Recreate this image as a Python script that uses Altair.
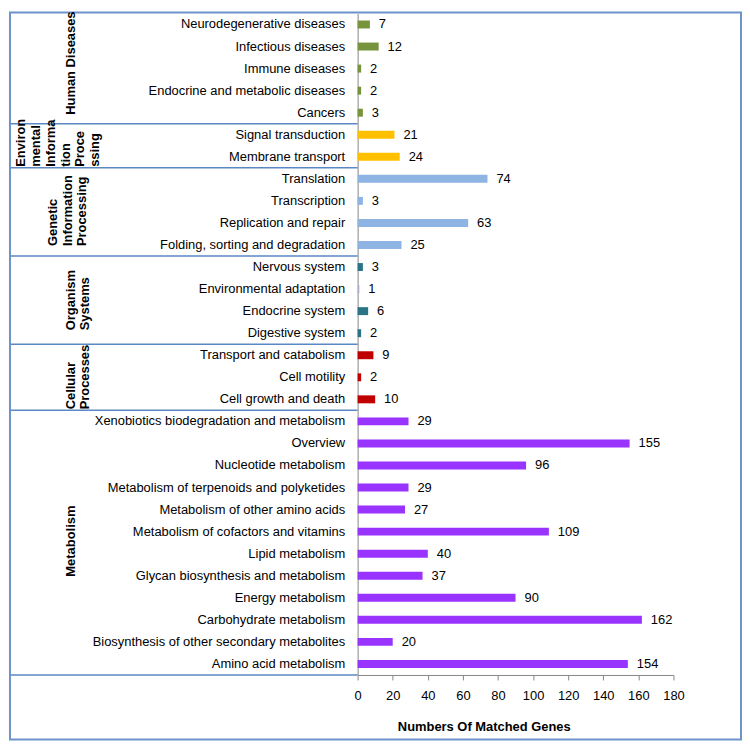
import altair as alt
import pandas as pd

categories = [
    "Neurodegenerative diseases", "Infectious diseases", "Immune diseases",
    "Endocrine and metabolic diseases", "Cancers",
    "Signal transduction", "Membrane transport",
    "Translation", "Transcription", "Replication and repair",
    "Folding, sorting and degradation",
    "Nervous system", "Environmental adaptation", "Endocrine system", "Digestive system",
    "Transport and catabolism", "Cell motility", "Cell growth and death",
    "Xenobiotics biodegradation and metabolism", "Overview", "Nucleotide metabolism",
    "Metabolism of terpenoids and polyketides", "Metabolism of other amino acids",
    "Metabolism of cofactors and vitamins", "Lipid metabolism",
    "Glycan biosynthesis and metabolism", "Energy metabolism",
    "Carbohydrate metabolism", "Biosynthesis of other secondary metabolites",
    "Amino acid metabolism",
]
values = [7, 12, 2, 2, 3, 21, 24, 74, 3, 63, 25, 3, 1, 6, 2, 9, 2, 10,
          29, 155, 96, 29, 27, 109, 40, 37, 90, 162, 20, 154]
colors = (["#77933C"] * 5 + ["#FFC000"] * 2 + ["#8DB4E2"] * 4 +
          ["#2A7485", "#B9A9D4", "#2A7485", "#2A7485"] + ["#C00000"] * 3 +
          ["#9933FF"] * 12)
x_ticks = [0, 20, 40, 60, 80, 100, 120, 140, 160, 180]

# group label lines, anchor (last row of group), first-line x (px), upward shift
groups = [
    (["Human Diseases"], "Cancers", -289, 9),
    (["Environ", "mental", "Informa", "tion", "Proce", "ssing"], "Membrane transport", -339, 1),
    (["Genetic", "Information", "Processing"], "Folding, sorting and degradation", -307, 10),
    (["Organism", "Systems"], "Digestive system", -289, 14),
    (["Cellular", "Processes"], "Cell growth and death", -289, 1),
    (["Metabolism"], "Amino acid metabolism", -289, 99),
]
section_starts = ["Signal transduction", "Translation", "Nervous system",
                  "Transport and catabolism", "Xenobiotics biodegradation and metabolism"]

df = pd.DataFrame({"cat": categories, "val": values, "col": colors})

FONT = "Liberation Sans"
yscale = alt.Scale(domain=categories, paddingInner=0, paddingOuter=0)
xscale = alt.Scale(domain=[0, 180], nice=False)
yaxis = alt.Axis(labelFont=FONT, labelFontSize=13, labelColor="#000000",
                 ticks=False, labelPadding=13, domainColor="#868686",
                 labelLimit=400, labelOverlap=False, title=None)
xaxis = alt.Axis(values=x_ticks, grid=False, labelOverlap=False, labelFlush=False,
                 labelFont=FONT, labelFontSize=13, labelColor="#000000",
                 domainColor="#868686", tickColor="#868686", tickSize=5,
                 labelPadding=10, title="Numbers Of Matched Genes",
                 titleFont=FONT, titleFontSize=13,
                 titleFontWeight="bold", titleColor="#000000",
                 titleX=127, titleY=52, titleBaseline="middle",
                 titleAlign="center")


def Y(field, **kw):
    return alt.Y(field, sort=categories, scale=yscale, axis=yaxis, title=None, **kw)


def X(field):
    return alt.X(field, scale=xscale, axis=xaxis, title="Numbers Of Matched Genes")


base = alt.Chart(df)
bars = base.mark_bar(size=8).encode(
    y=Y("cat:N"), x=X("val:Q"),
    color=alt.Color("col:N", scale=None),
)
labels = base.mark_text(align="left", baseline="middle", dx=9, font=FONT,
                        fontSize=13, color="#000000").encode(
    y=Y("cat:N"), x=X("val:Q"), text="val:Q",
)

sep_df = pd.DataFrame({"cat": section_starts})
seps = alt.Chart(sep_df).mark_rule(color="#5B87C5", strokeWidth=1.5).encode(
    y=Y("cat:N", bandPosition=0),
    x=alt.value(-351), x2=alt.value(0),
)
bottom = alt.Chart(pd.DataFrame({"cat": ["Amino acid metabolism"]})).mark_rule(
    color="#5B87C5", strokeWidth=1.5).encode(
    y=Y("cat:N", bandPosition=1),
    x=alt.value(-351), x2=alt.value(0),
)
border = alt.Chart(pd.DataFrame({"a": [0]})).mark_rect(
    fill=None, stroke="#6C93CC", strokeWidth=2).encode(
    x=alt.value(-350), x2=alt.value(386), y=alt.value(-1), y2=alt.value(731),
)

layers = [bars, labels, seps, bottom, border]
for lines, anchor, cx, up in groups:
    layers.append(
        alt.Chart(pd.DataFrame({"cat": [anchor]})).mark_text(
            text=lines, angle=270, align="left", baseline="middle", dx=up,
            font=FONT, fontSize=13, fontWeight="bold", color="#000000",
            lineHeight=15,
        ).encode(
            y=Y("cat:N", bandPosition=1),
            x=alt.value(cx),
        )
    )

chart = alt.layer(*layers).properties(
    width=318, height=666, padding=0, background="white"
).configure_view(strokeWidth=0, strokeOpacity=0)

chart.save("out.html", embed_options={"renderer": "svg", "actions": False})
